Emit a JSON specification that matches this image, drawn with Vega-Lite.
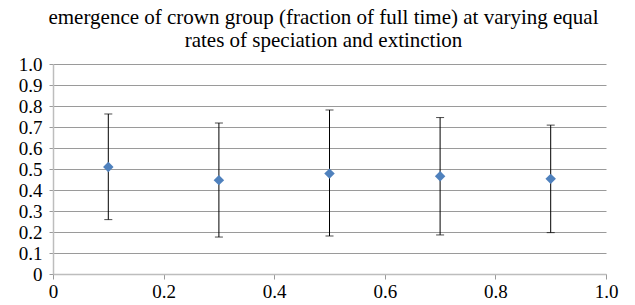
{
  "$schema": "https://vega.github.io/schema/vega-lite/v6.json",
  "width": 553,
  "height": 210,
  "autosize": {"type": "none"},
  "padding": {"left": 53, "top": 64, "right": 29, "bottom": 31},
  "background": "white",
  "title": {
    "text": ["emergence of crown group (fraction of full time) at varying equal", "rates of speciation and extinction"],
    "font": "Liberation Serif",
    "fontSize": 21,
    "fontWeight": "normal",
    "color": "#000000",
    "anchor": "middle",
    "offset": 4,
    "lineHeight": 23,
    "dx": -6
  },
  "data": {
    "values": [
      {"rate": 0.1, "mean": 0.509, "lo": 0.259, "hi": 0.762},
      {"rate": 0.3, "mean": 0.447, "lo": 0.176, "hi": 0.719},
      {"rate": 0.5, "mean": 0.478, "lo": 0.181, "hi": 0.781},
      {"rate": 0.7, "mean": 0.466, "lo": 0.186, "hi": 0.745},
      {"rate": 0.9, "mean": 0.453, "lo": 0.197, "hi": 0.709}
    ]
  },
  "config": {
    "view": {"stroke": null},
    "axis": {
      "labelFont": "Liberation Serif",
      "labelFontSize": 19,
      "labelColor": "#000000",
      "domainColor": "#BDBDBD",
      "domainWidth": 1.5,
      "tickColor": "#9A9A9A",
      "gridColor": "#9A9A9A",
      "labelOverlap": false,
      "title": null
    }
  },
  "encoding": {
    "x": {
      "field": "rate", "type": "quantitative",
      "scale": {"domain": [0, 1], "nice": false},
      "axis": {"values": [0, 0.2, 0.4, 0.6, 0.8, 1.0], "grid": false, "tickSize": 5, "labelPadding": 3,
               "labelExpr": "datum.value == 0 ? '0' : format(datum.value, '.1f')", "labelFlush": false}
    },
    "y": {
      "field": "lo", "type": "quantitative",
      "scale": {"domain": [0, 1], "nice": false},
      "axis": {"values": [0, 0.1, 0.2, 0.3, 0.4, 0.5, 0.6, 0.7, 0.8, 0.9, 1.0], "grid": true, "tickSize": 4, "labelPadding": 7,
               "labelExpr": "datum.value == 0 ? '0' : format(datum.value, '.1f')", "labelFlush": false, "labelBaseline": "middle"}
    }
  },
  "layer": [
    {
      "mark": {"type": "rule", "color": "#000000", "strokeWidth": 1},
      "encoding": {
        "y2": {"field": "hi"}
      }
    },
    {
      "mark": {"type": "tick", "orient": "horizontal", "color": "#000000", "size": 8, "thickness": 1}
    },
    {
      "mark": {"type": "tick", "orient": "horizontal", "color": "#000000", "size": 8, "thickness": 1},
      "encoding": {
        "y": {"field": "hi", "type": "quantitative"}
      }
    },
    {
      "mark": {"type": "point", "shape": "diamond", "filled": true, "color": "#4F81BD", "opacity": 1, "size": 110},
      "encoding": {
        "y": {"field": "mean", "type": "quantitative"}
      }
    }
  ]
}
